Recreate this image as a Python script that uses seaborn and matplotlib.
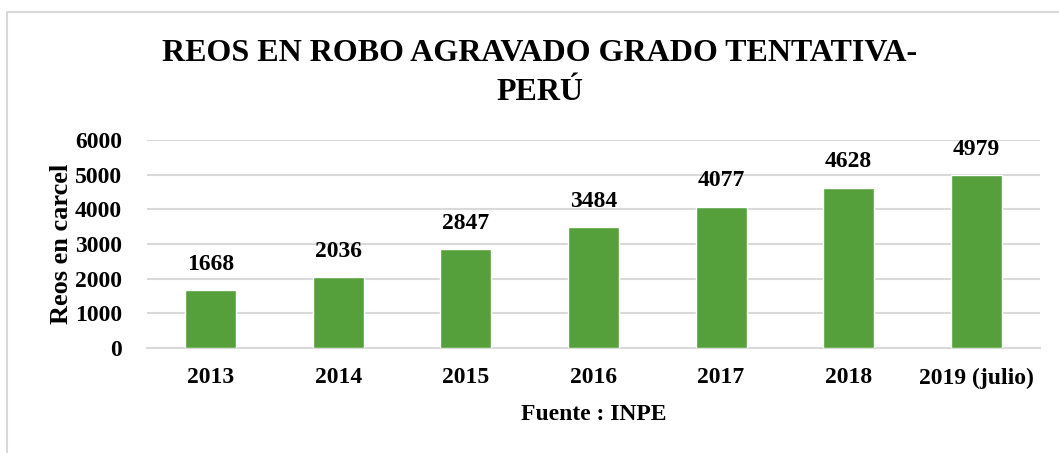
import matplotlib
matplotlib.use("Agg")
import matplotlib.pyplot as plt
from matplotlib.patches import Rectangle
import pandas as pd
import seaborn as sns

years = ["2013", "2014", "2015", "2016", "2017", "2018", "2019 (julio)"]
reos = [1668, 2036, 2847, 3484, 4077, 4628, 4979]
y_ticks = [0, 1000, 2000, 3000, 4000, 5000, 6000]

sns.set_theme(style="white")
plt.rcParams["font.family"] = ["Liberation Serif", "DejaVu Serif"]
plt.rcParams["font.weight"] = "bold"
plt.rcParams["text.color"] = "black"
plt.rcParams["axes.labelcolor"] = "black"

df = pd.DataFrame({"anio": years, "reos": reos})

fig = plt.figure(figsize=(10.59, 4.53), dpi=100)
ax = fig.add_axes([147 / 1059, 105 / 453, 893 / 1059, 208 / 453])

sns.barplot(data=df, x="anio", y="reos", color="#55A03B", width=0.4,
            saturation=1, ax=ax, zorder=3)

ax.set_ylim(0, 6000)
ax.set_yticks(y_ticks)
ax.yaxis.grid(True, color="#D9D9D9", linewidth=1.5, zorder=0)
ax.set_axisbelow(True)
for s in ["top", "right", "left"]:
    ax.spines[s].set_visible(False)
ax.spines["bottom"].set_color("#D9D9D9")
ax.spines["bottom"].set_linewidth(1.5)
ax.tick_params(axis="both", length=0, labelsize=17, colors="black")
ax.tick_params(axis="x", pad=14)
ax.tick_params(axis="y", pad=18)
for lbl in ax.get_xticklabels() + ax.get_yticklabels():
    lbl.set_fontweight("bold")

for i, v in enumerate(reos):
    ax.annotate(str(v), (i, v), xytext=(0, 11), textcoords="offset points",
                ha="center", va="bottom", fontsize=17, fontweight="bold",
                color="black")

ax.set_ylabel("Reos en carcel", fontsize=19, fontweight="bold", labelpad=1,
              color="black")
ax.set_xlabel("Fuente : INPE", fontsize=17, fontweight="bold", labelpad=11,
              color="black")

fig.text(540 / 1059, 1 - 73 / 453, "REOS EN ROBO AGRAVADO GRADO TENTATIVA-\nPERÚ",
         ha="center", va="center", fontsize=23, fontweight="bold",
         linespacing=1.45, color="black")

fig.patches.append(Rectangle((7 / 1059, -0.1), 1.2, 1.1 - 12 / 453,
                             transform=fig.transFigure, fill=False,
                             edgecolor="#D9D9D9", linewidth=1.5))

fig.savefig("out.png", dpi=100)
